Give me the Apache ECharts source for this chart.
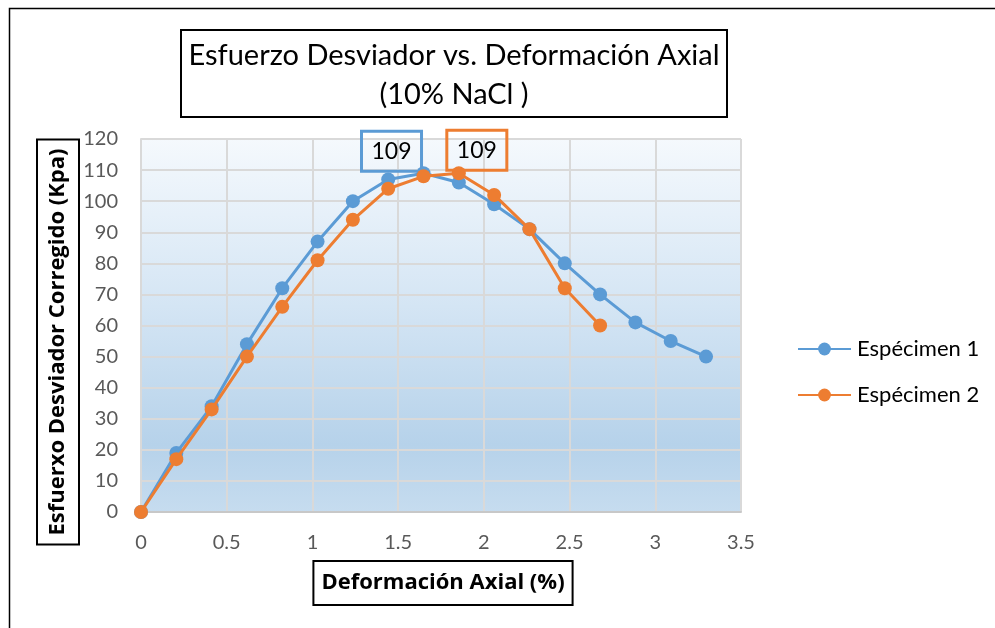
<!DOCTYPE html>
<html>
<head>
<meta charset="utf-8">
<script src="https://cdn.jsdelivr.net/npm/echarts@6/dist/echarts.min.js"></script>
<style>
html,body{margin:0;padding:0;background:#fff;}
#chart{width:995px;height:628px;}
</style>
</head>
<body>
<div id="chart"></div>
<script>
var strain1 = [0, 0.206, 0.412, 0.618, 0.824, 1.03, 1.236, 1.442, 1.648, 1.854, 2.06, 2.266, 2.472, 2.678, 2.884, 3.09, 3.296];
var stress1 = [0, 19, 34, 54, 72, 87, 100, 107, 109, 106, 99, 91, 80, 70, 61, 55, 50];
var strain2 = [0, 0.206, 0.412, 0.618, 0.824, 1.03, 1.236, 1.442, 1.648, 1.854, 2.06, 2.266, 2.472, 2.678];
var stress2 = [0, 17, 33, 50, 66, 81, 94, 104, 108, 109, 102, 91, 72, 60];
var seriesNames = ['Espécimen 1', 'Espécimen 2'];
var xTicks = [0, 0.5, 1, 1.5, 2, 2.5, 3, 3.5];
var yTicks = [0, 10, 20, 30, 40, 50, 60, 70, 80, 90, 100, 110, 120];
var peakIndex1 = 8;
var peakIndex2 = 9;
var titleText = 'Esfuerzo Desviador vs. Deformación Axial\n(10% NaCl )';
var xName = 'Deformación Axial (%)';
var yName = 'Esfuerxo Desviador Corregido (Kpa)';

var BLUE = '#5b9bd5', ORANGE = '#ed7d31';
var FONT = 'Lato, "Open Sans", sans-serif';
var BFONT = '"Open Sans", Lato, sans-serif';

function buildData(xs, ys, peak, color, offset) {
  return xs.map(function (x, i) {
    var item = { value: [x, ys[i]] };
    if (i === peak) {
      item.label = {
        show: true, position: 'top', distance: 0, offset: offset,
        formatter: function (p) { return String(p.value[1]); },
        color: '#000', fontSize: 23, fontFamily: FONT, lineHeight: 23,
        borderColor: color, borderWidth: 1.5,
        padding: [9, 10, 8, 10], backgroundColor: 'rgba(255,255,255,0)'
      };
    }
    return item;
  });
}

var chart = echarts.init(document.getElementById('chart'));
chart.setOption({
  animation: false,
  backgroundColor: '#fff',
  grid: {
    left: 141, right: 254, top: 139, bottom: 116,
    show: true, borderWidth: 0,
    backgroundColor: {
      type: 'linear', x: 0, y: 0, x2: 0, y2: 1,
      colorStops: [
        { offset: 0, color: '#f5f9fd' },
        { offset: 0.45, color: '#d4e5f4' },
        { offset: 0.82, color: '#b6d2ea' },
        { offset: 1, color: '#c6dcef' }
      ]
    }
  },
  legend: {
    left: 797, top: 338, orient: 'vertical', itemGap: 24, padding: 0,
    itemWidth: 53, itemHeight: 16,
    textStyle: { fontSize: 22, color: '#000', fontFamily: FONT, padding: [0, 0, 0, 1] },
    data: seriesNames
  },
  xAxis: {
    type: 'value', min: xTicks[0], max: xTicks[xTicks.length - 1], interval: 0.5,
    axisLine: { show: true, lineStyle: { color: '#c8c8c8', width: 2 } },
    axisTick: { show: false },
    splitLine: { show: true, lineStyle: { color: '#d9d9d9', width: 2 } },
    axisLabel: { color: '#595959', fontSize: 20, fontFamily: FONT, margin: 21 }
  },
  yAxis: {
    type: 'value', min: yTicks[0], max: yTicks[yTicks.length - 1], interval: 10,
    axisLine: { show: true, lineStyle: { color: '#d9d9d9', width: 2 } },
    axisTick: { show: false },
    splitLine: { show: true, lineStyle: { color: '#d9d9d9', width: 2 } },
    axisLabel: { color: '#595959', fontSize: 20, fontFamily: FONT, margin: 23 }
  },
  series: [
    {
      name: seriesNames[0], type: 'line',
      data: buildData(strain1, stress1, peakIndex1, BLUE, [-32, 5]),
      symbol: 'circle', symbolSize: 14,
      lineStyle: { color: BLUE, width: 3 },
      itemStyle: { color: BLUE },
      z: 2
    },
    {
      name: seriesNames[1], type: 'line',
      data: buildData(strain2, stress2, peakIndex2, ORANGE, [18, 4]),
      symbol: 'circle', symbolSize: 14,
      lineStyle: { color: ORANGE, width: 3 },
      itemStyle: { color: ORANGE },
      z: 3
    }
  ],
  graphic: [
    {
      type: 'rect', silent: true, z: -1,
      shape: { x: 9.5, y: 8.5, width: 1100, height: 700 },
      style: { fill: 'none', stroke: '#000', lineWidth: 1.5 }
    },
    {
      type: 'rect', silent: true,
      shape: { x: 181, y: 30, width: 546, height: 87 },
      style: { fill: '#fff', stroke: '#000', lineWidth: 2 }
    },
    {
      type: 'text', silent: true, x: 454, y: 75,
      style: {
        text: titleText, textAlign: 'center', textVerticalAlign: 'middle',
        font: '29px ' + FONT, fill: '#000', lineHeight: 39
      }
    },
    {
      type: 'text', silent: true, x: 58, y: 342, rotation: Math.PI / 2,
      style: {
        text: yName, textAlign: 'center', textVerticalAlign: 'middle',
        font: 'bold 22px ' + BFONT, fill: '#000', lineHeight: 26,
        borderColor: '#000', borderWidth: 2, padding: [7, 8, 7, 8],
        backgroundColor: '#fff'
      }
    },
    {
      type: 'text', silent: true, x: 443, y: 583,
      style: {
        text: xName, textAlign: 'center', textVerticalAlign: 'middle',
        font: 'bold 22px ' + BFONT, fill: '#000', lineHeight: 26,
        borderColor: '#000', borderWidth: 2, padding: [8, 7, 8, 7],
        backgroundColor: '#fff'
      }
    }
  ]
});
</script>
</body>
</html>
